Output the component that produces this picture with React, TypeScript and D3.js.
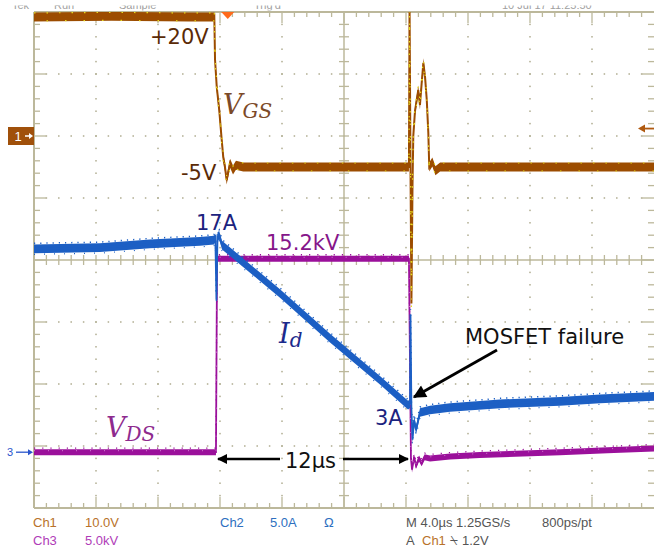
import React from 'react';
import * as d3 from 'd3';

// ---- Scope settings ----
const timePerDiv = 4; // µs/div
const timeDomain: [number, number] = [-20, 20];
const ch1Domain: [number, number] = [-60, 20]; // V, 10 V/div, ground 2 div above centre
const ch2Domain: [number, number] = [-5, 35]; // A, 5 A/div
const ch3Domain: [number, number] = [-5, 35]; // kV, 5 kV/div

// ---- Traces (time µs from screen centre, value) ----
const vgsPoints: [number, number][] = [
  [-20, 19.2], [-15, 19.3], [-10, 19.2], [-8.39, 19.2], [-8.37, 19.8], [-8.32, 12.3],
  [-8.21, 7.9], [-8.05, 4.2], [-7.89, -0.6], [-7.79, -3.4], [-7.68, -5.0], [-7.57, -7.1],
  [-7.35, -4.4], [-7.16, -5.5], [-6.97, -4.7], [-6.5, -5.0], [0, -5.0], [4.19, -5.0],
  [4.23, 21], [4.29, -5], [4.35, -27], [4.42, -8], [4.47, 0], [4.58, 4.0], [4.79, 7.4],
  [4.9, 5.0], [5.01, 8.5], [5.12, 11.8], [5.23, 9.5], [5.34, 5.8], [5.44, 0.5], [5.5, -5.0],
  [5.7, -4.2], [5.9, -5.6], [6.2, -5.0], [12, -5.0], [20, -5.0],
];
const idPoints: [number, number][] = [
  [-20, 15.9], [-15.74, 16.0], [-12.52, 16.3], [-9.29, 16.5], [-8.39, 16.6], [-8.3, 16.8],
  [-8.23, 11.8], [-8.16, 16.9], [-8.05, 17.0], [-7.87, 16.2], [-4.13, 12.3], [-0.9, 8.7],
  [2.32, 5.3], [4.13, 3.3], [4.26, 3.4], [4.29, 10.6], [4.35, 3.0], [4.42, 0.5], [4.52, 2.1],
  [4.65, 1.3], [4.9, 2.7], [5.55, 2.9], [6.84, 3.1], [10.06, 3.4], [13.94, 3.6], [16.52, 3.8],
  [20, 4.0],
];
const vdsPoints: [number, number][] = [
  [-20, -0.5], [-8.26, -0.5], [-8.19, 15.1], [0, 15.1], [4.19, 15.1], [4.32, -1.0],
  [4.39, -1.9], [4.52, -0.9], [4.65, -1.6], [4.84, -1.0], [5.01, -1.4], [5.2, -0.9],
  [5.55, -1.0], [6.84, -0.85], [8.77, -0.73], [13.94, -0.5], [17, -0.35], [20, -0.2],
];

// ---- Text ----
const statusTop = [
  { x: 12, t: 'Tek' }, { x: 54, t: 'Run' }, { x: 119, t: 'Sample' },
  { x: 254, t: "Trig'd" }, { x: 502, t: '10 Jul 17 11:25:50' },
];

const W = 654, H = 550;
const L = 34, R = 654, T = 12, B = 508;

const x = d3.scaleLinear().domain(timeDomain).range([L, R]);
const xDiv = d3.scaleLinear().domain([0, 10]).range([L, R]);
const yDiv = d3.scaleLinear().domain([0, 8]).range([T, B]);
const y1 = d3.scaleLinear().domain(ch1Domain).range([B, T]);
const y2 = d3.scaleLinear().domain(ch2Domain).range([B, T]);
const y3 = d3.scaleLinear().domain(ch3Domain).range([B, T]);

const GRID = '#bcb89b';
const DOT = '#b0ac90';

function band(pts: [number, number][], ys: d3.ScaleLinear<number, number>, h: number) {
  return d3.area<[number, number]>()
    .x(d => x(d[0]))
    .y0(d => ys(d[1]) - h)
    .y1(d => ys(d[1]) + h)(pts) || '';
}
function line(pts: [number, number][], ys: d3.ScaleLinear<number, number>, dy = 0) {
  return d3.line<[number, number]>().x(d => x(d[0])).y(d => ys(d[1]) + dy)(pts) || '';
}

export default function App() {
  const dots: JSX.Element[] = [];
  [1, 2, 3, 5, 6, 7].forEach(r => {
    d3.range(1, 50).forEach(k => {
      dots.push(<rect key={`h${r}-${k}`} x={xDiv(k / 5) - 0.75} y={yDiv(r) - 0.75} width={1.5} height={1.5} fill={DOT} />);
    });
  });
  [1, 2, 3, 4, 6, 7, 8, 9].forEach(c => {
    d3.range(1, 40).forEach(k => {
      dots.push(<rect key={`v${c}-${k}`} x={xDiv(c) - 0.75} y={yDiv(k / 5) - 0.75} width={1.5} height={1.5} fill={DOT} />);
    });
  });
  const ticks: JSX.Element[] = [];
  d3.range(1, 50).forEach(k => {
    const xx = xDiv(k / 5);
    const major = k % 5 === 0;
    ticks.push(<line key={`tt${k}`} x1={xx} x2={xx} y1={T} y2={T + (major ? 11 : 5)} stroke={GRID} strokeWidth={1.3} />);
    ticks.push(<line key={`tb${k}`} x1={xx} x2={xx} y1={B} y2={B - (major ? 11 : 5)} stroke={GRID} strokeWidth={1.3} />);
    ticks.push(<line key={`tc${k}`} x1={xx} x2={xx} y1={yDiv(4) - 5} y2={yDiv(4) + 5} stroke={GRID} strokeWidth={1.3} />);
  });
  d3.range(1, 40).forEach(k => {
    const yy = yDiv(k / 5);
    const major = k % 5 === 0;
    ticks.push(<line key={`tl${k}`} x1={L} x2={L + (major ? 12 : 6)} y1={yy} y2={yy} stroke={GRID} strokeWidth={1.3} />);
    ticks.push(<line key={`tr${k}`} x1={R} x2={R - (major ? 12 : 6)} y1={yy} y2={yy} stroke={GRID} strokeWidth={1.3} />);
    ticks.push(<line key={`tm${k}`} x1={xDiv(5) - 5} x2={xDiv(5) + 5} y1={yy} y2={yy} stroke={GRID} strokeWidth={1.3} />);
  });

  const sans = 'DejaVu Sans, sans-serif';
  const serif = 'DejaVu Serif, Liberation Serif, serif';
  const small = 'Liberation Sans, Arial, sans-serif';

  return (
    <div style={{ position: 'absolute', left: 0, top: 0, width: W, height: H, background: '#fff' }}>
      <svg width={W} height={H} viewBox={`0 0 ${W} ${H}`} style={{ display: 'block' }}>
        <defs>
          <clipPath id="plot"><rect x={L} y={T} width={R - L} height={B - T} /></clipPath>
          <clipPath id="topbar"><rect x={0} y={5.5} width={W} height={5} /></clipPath>
          <marker id="ah" viewBox="0 0 10 10" refX="9" refY="5" markerWidth="15" markerHeight="13" markerUnits="userSpaceOnUse" orient="auto-start-reverse">
            <path d="M0,0 L10,5 L0,10 z" fill="#000" />
          </marker>
          <marker id="ah2" viewBox="0 0 10 10" refX="9" refY="5" markerWidth="13" markerHeight="10" markerUnits="userSpaceOnUse" orient="auto-start-reverse">
            <path d="M0,0 L10,5 L0,10 z" fill="#000" />
          </marker>
        </defs>
        <rect width={W} height={H} fill="#fff" />

        {/* top status (cut off) */}
        <g clipPath="url(#topbar)">
          {statusTop.map(s => (
            <text key={s.t} x={s.x} y={9} fontFamily={small} fontSize={11} fill="#a0a0a0">{s.t}</text>
          ))}
        </g>

        {/* graticule */}
        {dots}
        <line x1={xDiv(5)} x2={xDiv(5)} y1={T} y2={B} stroke={GRID} strokeWidth={1.5} />
        <line x1={L} x2={R} y1={yDiv(4)} y2={yDiv(4)} stroke={GRID} strokeWidth={1.5} />
        {ticks}
        <line x1={L} x2={L} y1={T} y2={B} stroke={GRID} strokeWidth={2} />
        <line x1={L} x2={R} y1={T} y2={T} stroke={GRID} strokeWidth={2} />
        <line x1={L} x2={R} y1={B} y2={B} stroke={GRID} strokeWidth={2} />

        {/* traces */}
        <g clipPath="url(#plot)">
          <path d={band(vdsPoints, y3, 3)} fill="#9b109b" />
          <path d={line(vdsPoints, y3)} fill="none" stroke="#9b109b" strokeWidth={1.8} />
          <path d={line(vdsPoints, y3, -4)} fill="none" stroke="#9b109b" strokeWidth={1.3} strokeDasharray="1.2 7" />
          <path d={line(vdsPoints, y3, -1.5)} fill="none" stroke="#d27ad2" strokeWidth={1} strokeDasharray="1 13" />
          <path d={band(idPoints, y2, 4.3)} fill="#1c5fc4" />
          <path d={line(idPoints, y2)} fill="none" stroke="#1c5fc4" strokeWidth={1.8} />
          <path d={line(idPoints, y2, -5.5)} fill="none" stroke="#1c5fc4" strokeWidth={1.5} strokeDasharray="1.2 5" />
          <path d={line(idPoints, y2, 5.5)} fill="none" stroke="#1c5fc4" strokeWidth={1.2} strokeDasharray="1 9" />
          <path d={band(vgsPoints, y1, 4.5)} fill="#9c4c00" />
          <path d={line(vgsPoints, y1)} fill="none" stroke="#9c4c00" strokeWidth={2} />
          <path d={line(vgsPoints, y1, -4)} fill="none" stroke="#e6dc1e" strokeWidth={1.2} strokeDasharray="1.5 11" />
          <path d={line(vgsPoints, y1, 4)} fill="none" stroke="#e6dc1e" strokeWidth={1.2} strokeDasharray="1.5 17" strokeDashoffset={6} />
        </g>

        {/* trigger position marker */}
        <path d={`M${x(-7.5) - 6.5},${T} L${x(-7.5) + 6.5},${T} L${x(-7.5)},${T + 7} Z`} fill="#ff6a1a" />

        {/* channel markers */}
        <rect x={8} y={y1(0) - 9} width={26} height={18} fill="#a0500a" />
        <text x={18} y={y1(0) + 5} fontFamily={small} fontSize={13} fill="#fff" textAnchor="middle">1</text>
        <path d={`M25,${y1(0)} L31,${y1(0)}`} stroke="#fff" strokeWidth={1.5} />
        <path d={`M29,${y1(0) - 3} L33,${y1(0)} L29,${y1(0) + 3} Z`} fill="#fff" />
        <text x={10} y={y3(-0.5) + 4} fontFamily={small} fontSize={11} fill="#2a55cc" textAnchor="middle">3</text>
        <path d={`M16,${y3(-0.5)} L29,${y3(-0.5)}`} stroke="#2a55cc" strokeWidth={1.3} />
        <path d={`M28,${y3(-0.5) - 3} L33,${y3(-0.5)} L28,${y3(-0.5) + 3} Z`} fill="#2a55cc" />
        {/* trigger level marker */}
        <path d={`M644,${y1(1.2)} L654,${y1(1.2)}`} stroke="#b05a10" strokeWidth={1.8} />
        <path d={`M645,${y1(1.2) - 4} L638,${y1(1.2)} L645,${y1(1.2) + 4} Z`} fill="#b05a10" />

        {/* annotations */}
        <text x={150} y={44} fontFamily={sans} fontSize={21} fill="#5a2a06">+20V</text>
        <text x={181} y={180} fontFamily={sans} fontSize={21} fill="#5a2a06">-5V</text>
        <text x={223} y={114} fontFamily={serif} fontStyle="italic" fontSize={27} fill="#7c4a28">V<tspan fontSize={20} dy={4}>GS</tspan></text>
        <text x={196} y={230} fontFamily={sans} fontSize={21} fill="#1c237e">17A</text>
        <text x={266} y={250} fontFamily={sans} fontSize={21} fill="#86168a">15.2kV</text>
        <text x={279} y={343} fontFamily={serif} fontStyle="italic" fontSize={27} fill="#1c2a8c">I<tspan fontSize={20} dy={4}>d</tspan></text>
        <text x={465} y={344} fontFamily={sans} fontSize={21} fill="#111">MOSFET failure</text>
        <line x1={497} y1={350} x2={414} y2={397} stroke="#000" strokeWidth={2.8} markerEnd="url(#ah)" />
        <text x={375} y={425} fontFamily={sans} fontSize={21} fill="#1c237e">3A</text>
        <text x={106} y={437} fontFamily={serif} fontStyle="italic" fontSize={27} fill="#8e2a8e">V<tspan fontSize={20} dy={4}>DS</tspan></text>
        <text x={285} y={468} fontFamily={sans} fontSize={21} fill="#111">12µs</text>
        <line x1={280} y1={459} x2={218} y2={459} stroke="#000" strokeWidth={2.4} markerEnd="url(#ah2)" />
        <line x1={343} y1={459} x2={408} y2={459} stroke="#000" strokeWidth={2.4} markerEnd="url(#ah2)" />

        {/* bottom status */}
        <g fontFamily={small} fontSize={13}>
          <text x={33} y={527} fill="#b8722a">Ch1</text>
          <text x={85} y={527} fill="#b8722a">10.0V</text>
          <text x={33} y={545} fill="#b03cb8">Ch3</text>
          <text x={85} y={545} fill="#b03cb8">5.0kV</text>
          <text x={220} y={527} fill="#2e6fc0">Ch2</text>
          <text x={270} y={527} fill="#2e6fc0">5.0A</text>
          <text x={324} y={527} fill="#2e6fc0">Ω</text>
          <text x={406} y={527} fill="#555">M 4.0µs 1.25GS/s</text>
          <text x={542} y={527} fill="#555">800ps/pt</text>
          <text x={406} y={545} fill="#555">A</text>
          <text x={422} y={545} fill="#b8722a">Ch1</text>
          <text x={450} y={545} fill="#555">⍀</text>
          <text x={462} y={545} fill="#555">1.2V</text>
        </g>
      </svg>
    </div>
  );
}
